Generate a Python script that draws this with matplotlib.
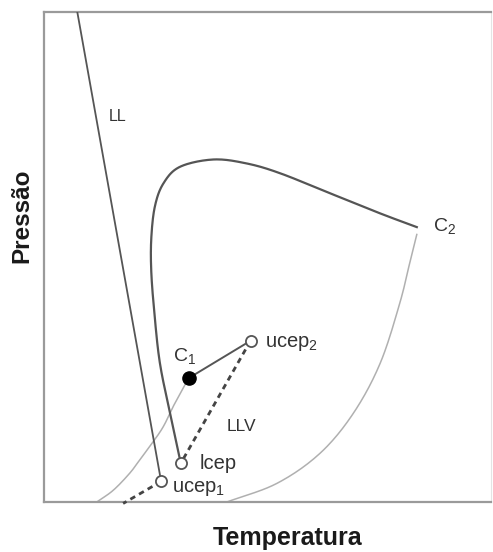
import numpy as np
import matplotlib
matplotlib.use("Agg")
import matplotlib.pyplot as plt

plt.rcParams['font.family'] = ['Liberation Sans', 'DejaVu Sans']

# Phase diagram (pressure vs temperature), arbitrary units 0..100
ll_T = [7.45, 26.2]
ll_P = [100.0, 4.2]

loop_T = [30.6, 28.1, 25.9, 24.7, 24.0, 24.0, 24.8, 26.7, 30.4, 37.9, 45.3, 52.8, 64.0, 75.2, 83.4]
loop_P = [7.9, 18.5, 28.5, 38.5, 47.0, 53.8, 60.3, 65.0, 68.4, 69.9, 69.1, 67.1, 63.0, 58.9, 56.1]

c2_branch_T = [83.4, 82.0, 79.6, 75.2, 69.2, 61.7, 52.1, 40.9]
c2_branch_P = [54.6, 49.5, 40.6, 28.3, 18.1, 9.9, 3.8, 0.0]

c1_branch_T = [32.3, 29.3, 26.7, 24.1, 21.5, 19.2, 15.5, 11.8]
c1_branch_P = [25.2, 20.2, 15.4, 11.9, 8.7, 5.9, 2.4, 0.0]

c1_ucep2_T = [32.4, 46.2]
c1_ucep2_P = [25.3, 32.9]

llv_upper_T = [46.2, 30.6]
llv_upper_P = [32.9, 7.9]
llv_lower_T = [26.2, 17.7]
llv_lower_P = [4.2, -0.3]

open_T = [46.2, 30.6, 26.2]          # ucep2, lcep, ucep1
open_P = [32.9, 7.9, 4.2]
c1_T, c1_P = 32.4, 25.3

labels = ["LL", "C$_\\mathregular{2}$", "C$_\\mathregular{1}$", "ucep$_\\mathregular{2}$",
          "LLV", "lcep", "ucep$_\\mathregular{1}$"]
label_T = [16.4, 89.7, 31.5, 49.4, 44.2, 34.9, 28.6]
label_P = [78.6, 56.2, 29.7, 32.4, 15.4, 7.9, 2.8]
label_ha = ["center", "center", "center", "left", "center", "left", "left"]
label_size = [11.5, 14, 14, 14.5, 12.5, 14.5, 14.5]


def smooth(xs, ys, n=20):
    """Catmull-Rom curve through the given points."""
    p = np.column_stack([xs, ys]).astype(float)
    p = np.vstack([2 * p[0] - p[1], p, 2 * p[-1] - p[-2]])
    out = []
    t = np.linspace(0, 1, n, endpoint=False)[:, None]
    for i in range(1, len(p) - 2):
        p0, p1, p2, p3 = p[i - 1], p[i], p[i + 1], p[i + 2]
        seg = 0.5 * ((2 * p1) + (-p0 + p2) * t + (2 * p0 - 5 * p1 + 4 * p2 - p3) * t ** 2
                     + (-p0 + 3 * p1 - 3 * p2 + p3) * t ** 3)
        out.append(seg)
    out.append(p[-2][None, :])
    out = np.vstack(out)
    return out[:, 0], out[:, 1]


W, H = 493, 552
fig = plt.figure(figsize=(W / 100, H / 100), dpi=100)
ax = fig.add_axes([44 / W, 1 - 502 / H, (491 - 44) / W, (502 - 12) / H])
ax.set_xlim(0, 100)
ax.set_ylim(0, 100)
ax.set_xticks([])
ax.set_yticks([])
for side in ["left", "top", "bottom"]:
    ax.spines[side].set_color("#9a9a9a")
    ax.spines[side].set_linewidth(1.6)
ax.spines["right"].set_color("#e4e4e4")
ax.spines["right"].set_linewidth(0.8)

dark = "#555555"
light = "#b0b0b0"

ax.plot(ll_T, ll_P, color=dark, lw=1.3, zorder=3)
ax.plot(*smooth(loop_T, loop_P), color=dark, lw=1.6, zorder=3)
ax.plot(*smooth(c2_branch_T, c2_branch_P), color=light, lw=1.1, zorder=2)
ax.plot(*smooth(c1_branch_T, c1_branch_P), color=light, lw=1.1, zorder=2)
ax.plot(c1_ucep2_T, c1_ucep2_P, color=dark, lw=1.4, zorder=3)
ax.plot(llv_upper_T, llv_upper_P, color="#444444", lw=2.0, ls=(0, (2.0, 1.6)), zorder=3)
ax.plot(llv_lower_T, llv_lower_P, color="#444444", lw=2.0, ls=(0, (2.0, 1.6)),
        zorder=3, clip_on=False)

ax.plot(open_T, open_P, ls="none", marker="o", ms=8, mfc="white", mec="#555555",
        mew=1.3, zorder=5)
ax.plot([c1_T], [c1_P], ls="none", marker="o", ms=9.5, mfc="black", mec="black", zorder=5)

for txt, x, y, ha, fs in zip(labels, label_T, label_P, label_ha, label_size):
    ax.text(x, y, txt, ha=ha, va="center", fontsize=fs, color="#333333", zorder=6)

fig.text(288 / W, 1 - 538 / H, "Temperatura", ha="center", va="center",
         fontsize=18, fontweight="bold", color="#1a1a1a")
fig.text(22 / W, 1 - 216 / H, "Pressão", ha="center", va="center", rotation=90,
         fontsize=17.5, fontweight="bold", color="#1a1a1a")

fig.savefig("out.png", dpi=100, facecolor="white")
